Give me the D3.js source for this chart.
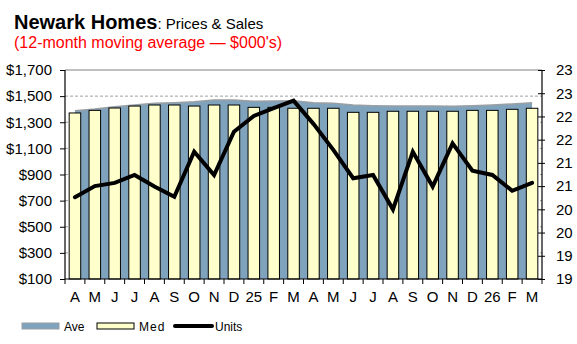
<!DOCTYPE html>
<html>
<head>
<meta charset="utf-8">
<script src="https://cdn.jsdelivr.net/npm/d3@7"></script>
<style>
  html, body { margin: 0; padding: 0; background: #fff; }
  svg { display: block; font-family: "Liberation Sans", Arial, sans-serif; }
</style>
</head>
<body>
<svg id="chart" width="577" height="344"></svg>
<script>
// Monthly categories, April 2024 through March 2026
const months = ["A","M","J","J","A","S","O","N","D","25","F","M",
                "A","M","J","J","A","S","O","N","D","26","F","M"];

// Average price ($000's), 12-month moving average
const avePrice = [1388,1401,1419,1432,1445,1450,1457,1470,1470,1460,1462,1465,
                  1450,1445,1432,1427,1424,1424,1424,1422,1427,1432,1440,1450];

// Median price ($000's), 12-month moving average
const medPrice = [1371,1391,1409,1424,1432,1432,1424,1432,1432,1414,1414,1407,
                  1407,1407,1376,1376,1384,1384,1384,1384,1391,1391,1399,1407];

// Units sold, 12-month moving average
const units = [20.66,20.90,20.97,21.14,20.89,20.67,21.64,21.14,22.07,22.41,22.58,22.74,
               22.24,21.68,21.07,21.14,20.40,21.64,20.89,21.82,21.23,21.14,20.80,20.97];

// Axis ticks
const priceTicks = [100,300,500,700,900,1100,1300,1500,1700];
const unitTicks  = [18.9,19.4,19.9,20.4,20.9,21.4,21.9,22.4,22.9,23.4];

const svg = d3.select("#chart");
const plotLeft = 65, plotRight = 542, plotTop = 70, plotBottom = 279;

const x = d3.scaleBand().domain(d3.range(months.length)).range([plotLeft, plotRight]).padding(0);
const cx = i => x(i) + x.bandwidth() / 2;
const y = d3.scaleLinear().domain([100, 1700]).range([plotBottom, plotTop]);
const y2 = d3.scaleLinear().domain([18.9, 23.4]).range([plotBottom, plotTop]);

// Title
const title = svg.append("text").attr("x", 14).attr("y", 29);
title.append("tspan").attr("font-weight", "bold").attr("font-size", 20).text("Newark Homes");
title.append("tspan").attr("font-size", 15).text(": Prices & Sales");
svg.append("text").attr("x", 14).attr("y", 48).attr("font-size", 16)
  .attr("fill", "#ff0000").text("(12-month moving average \u2014 $000's)");

// Horizontal gridlines
svg.append("g").selectAll("line").data(priceTicks.filter(d => d > 100 && d < 1700)).join("line")
  .attr("x1", plotLeft).attr("x2", plotRight)
  .attr("y1", d => y(d)).attr("y2", d => y(d))
  .attr("stroke", "#a0a0a0").attr("stroke-width", 1).attr("stroke-dasharray", "3,2");
svg.append("line").attr("x1", plotLeft).attr("x2", plotRight).attr("y1", y(1700)).attr("y2", y(1700))
  .attr("stroke", "#808080").attr("stroke-width", 1);

// Average price as a filled area
const area = d3.area().x((d, i) => cx(i)).y0(y(100)).y1(d => y(d));
svg.append("path").datum(avePrice).attr("d", area)
  .attr("fill", "#7fa3bd");
svg.append("path").datum(avePrice)
  .attr("d", d3.line().x((d, i) => cx(i)).y(d => y(d)))
  .attr("fill", "none").attr("stroke", "#9a9fa3").attr("stroke-width", 1.5);

// Median price bars
const bw = x.bandwidth() * 0.58;
svg.append("g").selectAll("rect").data(medPrice).join("rect")
  .attr("x", (d, i) => cx(i) - bw / 2)
  .attr("width", bw)
  .attr("y", d => y(d))
  .attr("height", d => y(100) - y(d))
  .attr("fill", "#ffffcc").attr("stroke", "#000").attr("stroke-width", 1);

// Units line
svg.append("path").datum(units)
  .attr("d", d3.line().x((d, i) => cx(i)).y(d => y2(d)))
  .attr("fill", "none").attr("stroke", "#000").attr("stroke-width", 4)
  .attr("stroke-linecap", "round");

// Left axis
const yAxis = svg.append("g").attr("transform", `translate(${plotLeft},0)`)
  .call(d3.axisLeft(y).tickValues(priceTicks).tickFormat(d3.format("$,")).tickSize(5).tickPadding(8));
// Right axis
const y2Axis = svg.append("g").attr("transform", `translate(${plotRight},0)`)
  .call(d3.axisRight(y2).tickValues(unitTicks).tickFormat(d3.format(".0f")).tickSize(3).tickPadding(11));
y2Axis.selectAll(".tick line").attr("x1", -4);
// Bottom axis with ticks at month boundaries
const xAxis = svg.append("g").attr("transform", `translate(0,${plotBottom})`)
  .call(d3.axisBottom(x).tickFormat(i => months[i]).tickSize(0).tickPadding(12));
xAxis.selectAll("line.bound").data(d3.range(months.length + 1)).join("line")
  .attr("class", "bound")
  .attr("x1", i => plotLeft + i * x.bandwidth()).attr("x2", i => plotLeft + i * x.bandwidth())
  .attr("y1", 0).attr("y2", 5).attr("stroke", "#000");

[yAxis, y2Axis, xAxis].forEach(g => {
  g.selectAll(".domain").attr("stroke", "#000").attr("stroke-width", 1.2);
  g.selectAll("text").attr("font-size", 15).attr("fill", "#000")
    .attr("font-family", "'Liberation Sans', Arial, sans-serif");
});
yAxis.select(".domain").attr("d", `M0,${plotTop}V${plotBottom}`);
y2Axis.select(".domain").attr("d", `M0,${plotTop}V${plotBottom}`);
xAxis.select(".domain").attr("d", `M${plotLeft},0H${plotRight}`);

// Legend
const lg = svg.append("g").attr("font-size", 12);
lg.append("rect").attr("x", 22).attr("y", 323).attr("width", 37).attr("height", 6)
  .attr("fill", "#7fa3bd").attr("stroke", "#9a9fa3");
lg.append("text").attr("x", 64).attr("y", 330.5).text("Ave");
lg.append("rect").attr("x", 97).attr("y", 323).attr("width", 37).attr("height", 6)
  .attr("fill", "#ffffcc").attr("stroke", "#000");
lg.append("text").attr("x", 139).attr("y", 330.5).attr("letter-spacing", 1).text("Med");
lg.append("line").attr("x1", 175).attr("x2", 212).attr("y1", 326).attr("y2", 326)
  .attr("stroke", "#000").attr("stroke-width", 4).attr("stroke-linecap", "round");
lg.append("text").attr("x", 215).attr("y", 330.5).text("Units");
</script>
</body>
</html>
